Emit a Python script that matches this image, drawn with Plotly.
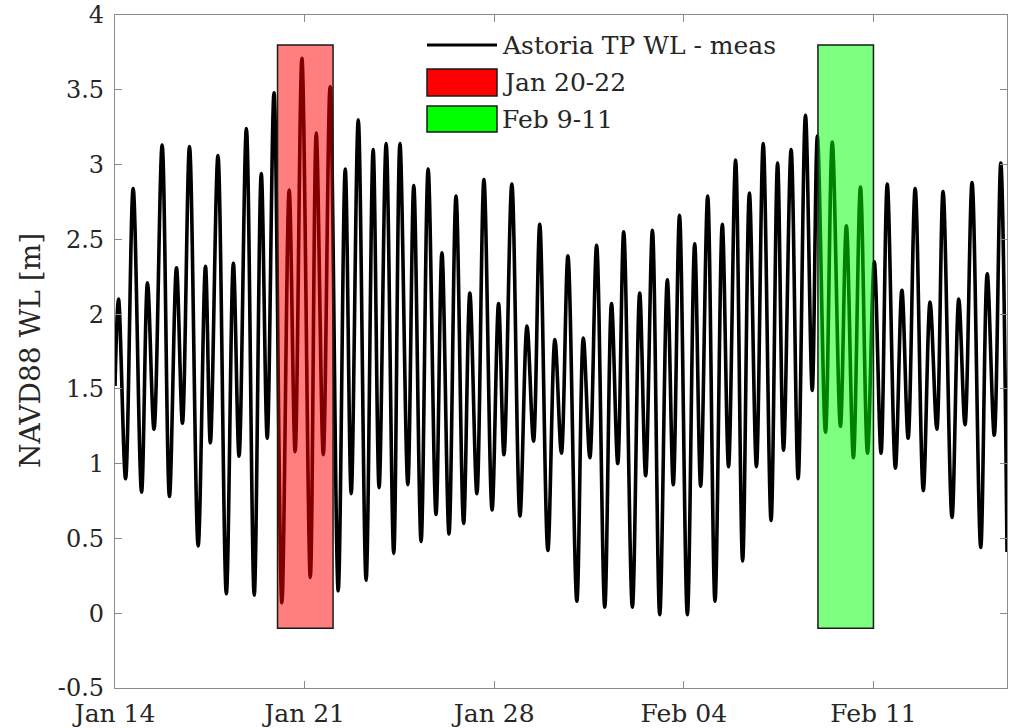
import pandas as pd
import plotly.graph_objects as go

# ---------------- data ----------------
start_date = "2019-01-14"

# time of each turning point, days after Jan 14 00:00
day_offsets = [
    0.00, 0.13, 0.39, 0.67, 0.98, 1.20, 1.44, 1.74, 2.01, 2.27,
    2.49, 2.75, 3.07, 3.34, 3.52, 3.80, 4.11, 4.37, 4.58, 4.85,
    5.14, 5.40, 5.62, 5.87, 6.16, 6.43, 6.65, 6.90, 7.21, 7.43,
    7.69, 7.94, 8.24, 8.50, 8.72, 8.98, 9.27, 9.53, 9.75, 10.01,
    10.29, 10.52, 10.81, 11.03, 11.30, 11.56, 11.85, 12.07, 12.33, 12.59,
    12.87, 13.10, 13.36, 13.62, 13.92, 14.16, 14.36, 14.65, 14.95, 15.21,
    15.45, 15.68, 15.98, 16.24, 16.48, 16.72, 17.05, 17.29, 17.53, 17.78,
    18.08, 18.33, 18.56, 18.78, 19.10, 19.37, 19.59, 19.84, 20.11, 20.39,
    20.61, 20.84, 21.13, 21.40, 21.62, 21.88, 22.15, 22.42, 22.65, 22.91,
    23.17, 23.42, 23.68, 23.93, 24.22, 24.46, 24.68, 24.96, 25.22, 25.49,
    25.74, 25.93, 26.23, 26.48, 26.78, 27.00, 27.26, 27.52, 27.78, 28.03,
    28.28, 28.51, 28.81, 29.05, 29.28, 29.54, 29.84, 30.09, 30.34, 30.57,
    30.90, 31.15, 31.38, 31.64, 31.96, 32.20, 32.46, 32.70, 32.93,
]

# measured water level at each turning point [m NAVD88]
water_level = [
    1.52, 2.10, 0.90, 2.84, 0.81, 2.21, 1.23, 3.13, 0.78, 2.31,
    1.27, 3.12, 0.45, 2.32, 1.14, 3.06, 0.13, 2.34, 1.05, 3.24,
    0.12, 2.94, 1.17, 3.48, 0.07, 2.83, 1.08, 3.71, 0.24, 3.21,
    1.06, 3.52, 0.15, 2.97, 0.80, 3.30, 0.22, 3.10, 0.84, 3.14,
    0.40, 3.14, 0.86, 2.86, 0.48, 2.97, 0.66, 2.41, 0.53, 2.79,
    0.60, 2.14, 0.80, 2.90, 0.69, 2.07, 1.06, 2.87, 0.65, 1.92,
    1.15, 2.60, 0.42, 1.83, 1.07, 2.39, 0.08, 1.84, 1.04, 2.46,
    0.04, 2.07, 1.00, 2.55, 0.04, 2.14, 0.92, 2.56, -0.01, 2.23,
    0.86, 2.66, -0.01, 2.47, 0.85, 2.79, 0.08, 2.60, 0.98, 3.03,
    0.35, 2.81, 0.98, 3.14, 0.62, 3.01, 1.09, 3.10, 0.90, 3.33,
    1.49, 3.19, 1.21, 3.15, 1.25, 2.59, 1.04, 2.85, 1.07, 2.35,
    1.07, 2.87, 0.97, 2.16, 1.17, 2.84, 0.82, 2.08, 1.23, 2.82,
    0.64, 2.10, 1.26, 2.88, 0.44, 2.27, 1.19, 3.01, 0.41,
]

# highlighted periods (days after Jan 14) and their labels
period_names = ["Jan 20-22", "Feb 9-11"]
period_start = [6.00, 25.95]
period_end = [8.05, 28.00]
period_bottom = [-0.1, -0.1]
period_top = [3.8, 3.8]
period_fill = ["rgba(255,0,0,0.5)", "rgba(0,255,0,0.5)"]
period_swatch = ["#ff0000", "#00ff00"]

series_name = "Astoria TP WL - meas"

x_tick_days = [0, 7, 14, 21, 28]
x_tick_text = ["Jan 14", "Jan 21", "Jan 28", "Feb 04", "Feb 11"]
y_tick_vals = [-0.5, 0, 0.5, 1, 1.5, 2, 2.5, 3, 3.5, 4]
y_tick_text = ["-0.5", "0", "0.5", "1", "1.5", "2", "2.5", "3", "3.5", "4"]
x_range_days = [0, 32.93]
y_range = [-0.5, 4]

# ---------------- figure ----------------
t0 = pd.Timestamp(start_date)
def to_time(d):
    return t0 + pd.to_timedelta(d, unit="D")

times = [to_time(d) for d in day_offsets]

FONT = "DejaVu Serif"
TXT = "#262626"
AX = "#8a8a8a"

fig = go.Figure()
fig.add_trace(go.Scatter(
    x=times, y=water_level, mode="lines", name=series_name,
    line=dict(color="black", width=3.6, shape="spline", smoothing=1.0),
    showlegend=False, hoverinfo="x+y",
))

for i in range(len(period_names)):
    fig.add_shape(
        type="rect", xref="x", yref="y",
        x0=to_time(period_start[i]), x1=to_time(period_end[i]),
        y0=period_bottom[i], y1=period_top[i],
        fillcolor=period_fill[i], line=dict(color="#1a1a1a", width=1.5),
        layer="above",
    )

# ---- custom legend (paper coordinates) ----
L, R, T, B = 115, 1007, 15, 688
W, H = R - L, B - T
def px(x):
    return (x - L) / W
def py(y):
    return (B - y) / H

sw_x0, sw_x1, txt_x = 427, 497, 500
fig.add_shape(type="line", xref="paper", yref="paper",
              x0=px(sw_x0), x1=px(sw_x1), y0=py(45), y1=py(45),
              line=dict(color="black", width=3.2), layer="above")
rows = [(69, 96), (106, 132)]
for i, (ya, yb) in enumerate(rows):
    fig.add_shape(type="rect", xref="paper", yref="paper",
                  x0=px(sw_x0), x1=px(sw_x1), y0=py(yb), y1=py(ya),
                  fillcolor=period_swatch[i], line=dict(color="#1a1a1a", width=1.5),
                  layer="above")
labels = [series_name] + period_names
label_y = [46, 83, 119]
for lab, yy in zip(labels, label_y):
    fig.add_annotation(xref="paper", yref="paper", x=px(txt_x), y=py(yy),
                       text=lab, showarrow=False, xanchor="left", yanchor="middle",
                       font=dict(family=FONT, size=25, color=TXT))

# y-axis title
fig.add_annotation(xref="paper", yref="paper", x=px(30), y=py(351),
                   text="NAVD88 WL [m]", textangle=-90, showarrow=False,
                   xanchor="center", yanchor="middle",
                   font=dict(family=FONT, size=28, color=TXT))

fig.update_xaxes(
    range=[to_time(x_range_days[0]), to_time(x_range_days[1])],
    tickvals=[to_time(d) for d in x_tick_days], ticktext=x_tick_text,
    ticks="inside", ticklen=7, tickcolor=AX, tickwidth=1,
    showline=True, linecolor=AX, linewidth=1.2, mirror="ticks",
    showgrid=False, zeroline=False, ticklabelstandoff=3, automargin=False,
    tickfont=dict(family=FONT, size=25, color=TXT),
)
fig.update_yaxes(
    range=y_range, tickvals=y_tick_vals, ticktext=y_tick_text,
    ticks="inside", ticklen=7, tickcolor=AX, tickwidth=1,
    showline=True, linecolor=AX, linewidth=1.2, mirror="ticks",
    showgrid=False, zeroline=False, ticklabelstandoff=5, automargin=False,
    tickfont=dict(family=FONT, size=24, color=TXT),
)
fig.update_layout(
    width=1010, height=728,
    margin=dict(l=L, r=1010 - R, t=T, b=728 - B),
    paper_bgcolor="white", plot_bgcolor="white",
    showlegend=False,
    font=dict(family=FONT, color=TXT),
)
fig.write_html("out.html")
